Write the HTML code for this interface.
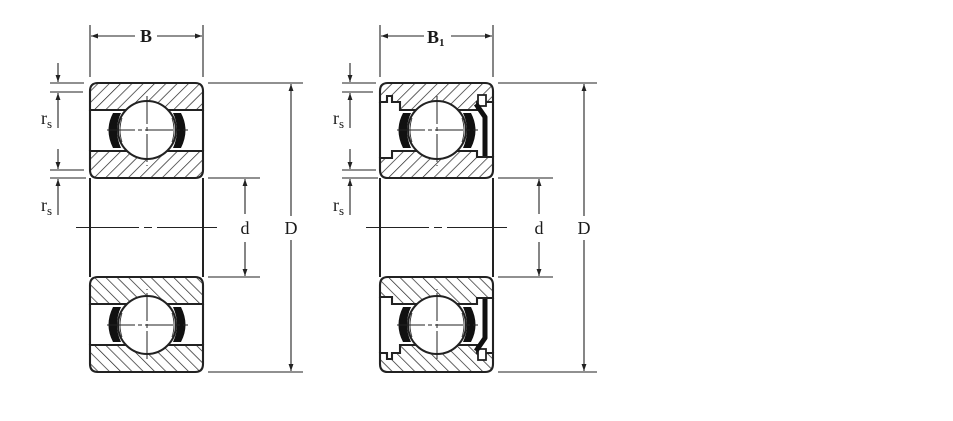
<!DOCTYPE html>
<html><head><meta charset="utf-8"><style>
html,body{margin:0;padding:0;background:#fff;}
svg{display:block}
text{font-family:"Liberation Serif",serif;fill:#1a1a1a}
</style></head><body>
<svg width="953" height="421" viewBox="0 0 953 421" xmlns="http://www.w3.org/2000/svg" xmlns:xlink="http://www.w3.org/1999/xlink">
<defs>
<pattern id="h" patternUnits="userSpaceOnUse" width="8" height="8" patternTransform="rotate(45)">
<line x1="0" y1="0" x2="0" y2="8" stroke="#222" stroke-width="1.4"/>
</pattern>
<marker id="a" viewBox="0 0 10 10" refX="10" refY="5" markerWidth="10" markerHeight="7" orient="auto-start-reverse" markerUnits="userSpaceOnUse">
<path d="M0,1.5 L10,5 L0,8.5 Z" fill="#222"/>
</marker>
</defs>

<g id="Ltop">
<path d="M90,110 L90,91 Q90,83 98,83 L195,83 Q203,83 203,91 L203,110 Z" fill="url(#h)" stroke="#222" stroke-width="2.1"/>
<path d="M90,151 L203,151 L203,170 Q203,178 195,178 L98,178 Q90,178 90,170 Z" fill="url(#h)" stroke="#222" stroke-width="2.1"/>
<line x1="90" y1="110" x2="90" y2="151" stroke="#222" stroke-width="2.1"/>
<line x1="203" y1="110" x2="203" y2="151" stroke="#222" stroke-width="2.1"/>
<path d="M113,113 Q104,130 113,148 L121,148 Q113,130 121,113 Z" fill="#111"/>
<path d="M181,113 Q190,130 181,148 L173,148 Q181,130 173,113 Z" fill="#111"/>
<circle cx="147" cy="130" r="29" fill="#fff" stroke="#222" stroke-width="2"/>
<path d="M122,118 Q118,130 122,142" fill="none" stroke="#333" stroke-width="0.9"/>
<path d="M172,118 Q176,130 172,142" fill="none" stroke="#333" stroke-width="0.9"/>
<line x1="107" y1="130" x2="188" y2="130" stroke="#222" stroke-width="1" stroke-dasharray="28,3,4,3"/>
<line x1="147" y1="96" x2="147" y2="166" stroke="#222" stroke-width="1" stroke-dasharray="28,3,4,3"/>
</g>
<use href="#Ltop" xlink:href="#Ltop" transform="translate(0,455) scale(1,-1)"/>
<line x1="90" y1="178" x2="90" y2="277" stroke="#222" stroke-width="2"/>
<line x1="203" y1="178" x2="203" y2="277" stroke="#222" stroke-width="2"/>

<g id="Rtop">
<path d="M380,102 L380,91 Q380,83 388,83 L485,83 Q493,83 493,91 L493,102 L477,102 L477,110 L400,110 L400,102 L392,102 L392,96 L387,96 L387,102 Z" fill="url(#h)" stroke="#222" stroke-width="2.1"/>
<path d="M380,158 L392,158 L392,151 L477,151 L477,157 L493,157 L493,170 Q493,178 485,178 L388,178 Q380,178 380,170 Z" fill="url(#h)" stroke="#222" stroke-width="2.1"/>
<line x1="380" y1="102" x2="380" y2="158" stroke="#222" stroke-width="2.1"/>
<line x1="493" y1="102" x2="493" y2="157" stroke="#222" stroke-width="2.1"/>
<rect x="478" y="95" width="8" height="11" fill="#fff" stroke="#222" stroke-width="1.8"/>
<path d="M476,104 L485,117 L485,156" fill="none" stroke="#111" stroke-width="5" stroke-linejoin="round"/>
<path d="M403,113 Q394,130 403,148 L411,148 Q403,130 411,113 Z" fill="#111"/>
<path d="M471,113 Q480,130 471,148 L463,148 Q471,130 463,113 Z" fill="#111"/>
<circle cx="437" cy="130" r="29" fill="#fff" stroke="#222" stroke-width="2"/>
<path d="M412,118 Q408,130 412,142" fill="none" stroke="#333" stroke-width="0.9"/>
<path d="M462,118 Q466,130 462,142" fill="none" stroke="#333" stroke-width="0.9"/>
<line x1="397" y1="130" x2="478" y2="130" stroke="#222" stroke-width="1" stroke-dasharray="28,3,4,3"/>
<line x1="437" y1="96" x2="437" y2="166" stroke="#222" stroke-width="1" stroke-dasharray="28,3,4,3"/>
</g>
<use href="#Rtop" xlink:href="#Rtop" transform="translate(0,455) scale(1,-1)"/>
<line x1="380" y1="178" x2="380" y2="277" stroke="#222" stroke-width="2"/>
<line x1="493" y1="178" x2="493" y2="277" stroke="#222" stroke-width="2"/>

<g stroke="#222" stroke-width="1.1" fill="none">
<line x1="90" y1="25" x2="90" y2="77"/><line x1="203" y1="25" x2="203" y2="77"/>
<line x1="91" y1="36" x2="135" y2="36" marker-start="url(#a)"/>
<line x1="157" y1="36" x2="202" y2="36" marker-end="url(#a)"/>
<line x1="208" y1="83" x2="303" y2="83"/><line x1="208" y1="372" x2="303" y2="372"/>
<line x1="291" y1="84" x2="291" y2="216" marker-start="url(#a)"/>
<line x1="291" y1="240" x2="291" y2="371" marker-end="url(#a)"/>
<line x1="208" y1="178" x2="260" y2="178"/><line x1="208" y1="277" x2="260" y2="277"/>
<line x1="245" y1="179" x2="245" y2="214" marker-start="url(#a)"/>
<line x1="245" y1="242" x2="245" y2="276" marker-end="url(#a)"/>
<line x1="76" y1="227.5" x2="217" y2="227.5" stroke-dasharray="63,5,8,5"/>
<line x1="50" y1="83" x2="84" y2="83"/><line x1="50" y1="92" x2="83" y2="92"/>
<line x1="58" y1="63" x2="58" y2="82" marker-end="url(#a)"/>
<line x1="58" y1="128" x2="58" y2="93" marker-end="url(#a)"/>
<line x1="50" y1="170" x2="84" y2="170"/><line x1="50" y1="178" x2="86" y2="178"/>
<line x1="58" y1="149" x2="58" y2="169" marker-end="url(#a)"/>
<line x1="58" y1="215" x2="58" y2="179" marker-end="url(#a)"/>
</g>
<g stroke="#222" stroke-width="1.1" fill="none">
<line x1="380" y1="25" x2="380" y2="77"/><line x1="493" y1="25" x2="493" y2="77"/>
<line x1="381" y1="36" x2="424" y2="36" marker-start="url(#a)"/>
<line x1="451" y1="36" x2="492" y2="36" marker-end="url(#a)"/>
<line x1="498" y1="83" x2="597" y2="83"/><line x1="498" y1="372" x2="597" y2="372"/>
<line x1="584" y1="84" x2="584" y2="216" marker-start="url(#a)"/>
<line x1="584" y1="240" x2="584" y2="371" marker-end="url(#a)"/>
<line x1="498" y1="178" x2="553" y2="178"/><line x1="498" y1="277" x2="553" y2="277"/>
<line x1="539" y1="179" x2="539" y2="214" marker-start="url(#a)"/>
<line x1="539" y1="242" x2="539" y2="276" marker-end="url(#a)"/>
<line x1="366" y1="227.5" x2="507" y2="227.5" stroke-dasharray="63,5,8,5"/>
<line x1="342" y1="83" x2="376" y2="83"/><line x1="342" y1="92" x2="373" y2="92"/>
<line x1="350" y1="63" x2="350" y2="82" marker-end="url(#a)"/>
<line x1="350" y1="128" x2="350" y2="93" marker-end="url(#a)"/>
<line x1="342" y1="170" x2="376" y2="170"/><line x1="342" y1="178" x2="378" y2="178"/>
<line x1="350" y1="149" x2="350" y2="169" marker-end="url(#a)"/>
<line x1="350" y1="215" x2="350" y2="179" marker-end="url(#a)"/>
</g>
<g font-size="18">
<text x="146" y="42" text-anchor="middle" font-weight="bold">B</text>
<text x="245" y="234" text-anchor="middle">d</text>
<text x="291" y="234" text-anchor="middle">D</text>
<text x="41" y="124">r<tspan font-size="13" dy="4">s</tspan></text>
<text x="41" y="211">r<tspan font-size="13" dy="4">s</tspan></text>
<text x="427" y="43" font-weight="bold">B<tspan font-size="11" dy="3">1</tspan></text>
<text x="539" y="234" text-anchor="middle">d</text>
<text x="584" y="234" text-anchor="middle">D</text>
<text x="333" y="124">r<tspan font-size="13" dy="4">s</tspan></text>
<text x="333" y="211">r<tspan font-size="13" dy="4">s</tspan></text>
</g>
</svg>
</body></html>
